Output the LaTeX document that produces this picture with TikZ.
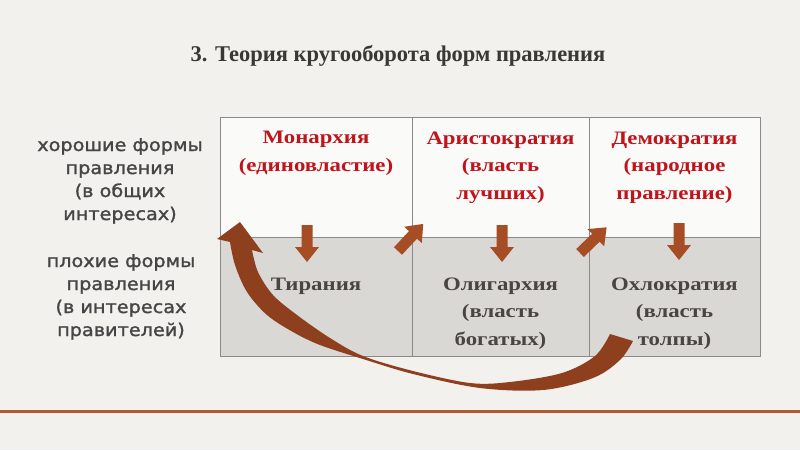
\documentclass[tikz,border=0pt]{standalone}
\usepackage{fontspec}
\setmainfont{Liberation Serif}
\newfontfamily\lblfont[FakeStretch=1.1, FakeBold=1.5]{DejaVu Sans}
\newfontfamily\cellfont[FakeStretch=1.2]{Liberation Serif}
\definecolor{bgc}{HTML}{F3F1EE}
\definecolor{topfill}{HTML}{FAFAF8}
\definecolor{botfill}{HTML}{D9D8D5}
\definecolor{bordc}{HTML}{8A8A8A}
\definecolor{arrc}{HTML}{A64D26}
\definecolor{curvc}{HTML}{8E3F1E}
\definecolor{redc}{HTML}{C0141C}
\definecolor{darkc}{HTML}{4A4541}
\definecolor{lblc}{HTML}{454545}
\definecolor{titc}{HTML}{3A3835}
\definecolor{linec}{HTML}{B5582F}
\tikzset{
  cell/.style={draw=bordc, line width=1.1pt, inner sep=0pt, anchor=north west},
  goodtxt/.style={anchor=base, align=center, inner sep=0pt, text=redc,
    font=\cellfont\fontsize{19}{27.5}\selectfont\bfseries},
  badtxt/.style={anchor=base, align=center, inner sep=0pt, text=darkc,
    font=\cellfont\fontsize{19}{27.5}\selectfont\bfseries},
  lbltxt/.style={anchor=base, align=center, inner sep=0pt, text=lblc,
    font=\lblfont\fontsize{17.5}{23}\selectfont},
  blockarrow/.pic={\fill[arrc] (-5.5,0) -- (5.5,0) -- (5.5,22) -- (12,22) -- (0,37) -- (-12,22) -- (-5.5,22) -- cycle;}
}
\begin{document}
\begin{tikzpicture}[x=1pt,y=-1pt]
\useasboundingbox (0,0) rectangle (800,450);
\fill[bgc] (0,0) rectangle (800,450);

% title
\node[anchor=base, inner sep=0pt, text=titc, font=\fontsize{22.5}{26}\selectfont\bfseries] (title) at (398,61) {3. Теория кругооборота форм правления};

% table cells
\node[cell, fill=topfill, minimum width=192pt, minimum height=120pt] (c11) at (220,117) {};
\node[cell, fill=topfill, minimum width=177pt, minimum height=120pt] (c12) at (412,117) {};
\node[cell, fill=topfill, minimum width=171pt, minimum height=120pt] (c13) at (589,117) {};
\node[cell, fill=botfill, minimum width=192pt, minimum height=119pt] (c21) at (220,237) {};
\node[cell, fill=botfill, minimum width=177pt, minimum height=119pt] (c22) at (412,237) {};
\node[cell, fill=botfill, minimum width=171pt, minimum height=119pt] (c23) at (589,237) {};

% texts (anchor = baseline of last line)
\node[goodtxt] (mon) at (316,171) {Монархия\\(единовластие)};
\node[goodtxt] (ari) at (500.5,199) {Аристократия\\(власть\\лучших)};
\node[goodtxt] (dem) at (674.5,199) {Демократия\\(народное\\правление)};
\node[badtxt] (tir) at (316,290) {Тирания};
\node[badtxt] (oli) at (500.5,345) {Олигархия\\(власть\\богатых)};
\node[badtxt] (ohl) at (674.5,345) {Охлократия\\(власть\\толпы)};

\node[lbltxt] (good) at (120,220) {хорошие формы\\правления\\(в общих\\интересах)};
\node[lbltxt] (bad) at (121,336) {плохие формы\\правления\\(в интересах\\правителей)};

% block arrows
\pic at (307,225) {blockarrow};
\pic at (502,225) {blockarrow};
\pic at (679,223) {blockarrow};
\pic[rotate=137] at (398,251) {blockarrow};
\pic[rotate=134] at (580,253) {blockarrow};

% curved arrow
\fill[curvc] (252,250) -- (263,253) -- (240,222) -- (217,239) --
  plot[smooth, tension=0.55] coordinates {(230,242) (235,265) (247,292) (267,315) (293,332) (320,345) (363,359) (413,374) (480,388) (543,390) (593,378) (620,360) (633,341)}
  -- plot[smooth, tension=0.55] coordinates {(610,334) (595,356) (562,373) (510,382) (470,383) (413,371) (363,356) (330,338) (297,315) (273,295) (258,272) (252,250)}
  -- cycle;

% bottom line
\fill[linec] (0,409.5) rectangle (800,413);
\end{tikzpicture}
\end{document}
